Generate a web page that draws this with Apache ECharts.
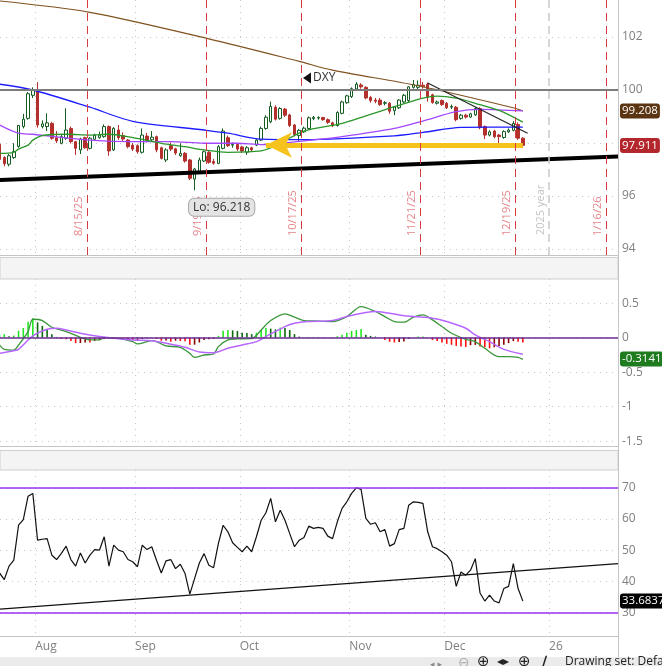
<!DOCTYPE html>
<html><head><meta charset="utf-8">
<script src="https://cdn.jsdelivr.net/npm/echarts@6/dist/echarts.min.js"></script>
<style>html,body{margin:0;padding:0;background:#fff}#c{width:662px;height:666px}</style>
</head><body><div id="c"></div>
<script>
// ---------- trading-day calendar (one slot per day on the chart) ----------
const jul25 = [22,23,24,25,28,29,30,31];
const aug25 = [1,4,5,6,7,8,11,12,13,14,15,18,19,20,21,22,25,26,27,28,29];
const sep25 = [1,2,3,4,5,8,9,10,11,12,15,16,17,18,19,22,23,24,25,26,29,30];
const oct25 = [1,2,3,6,7,8,9,10,13,14,15,16,17,20,21,22,23,24,27,28,29,30,31];
const nov25 = [3,4,5,6,7,10,11,12,13,14,17,18,19,20,21,24,25,26,27,28];
const dec25 = [1,2,3,4,5,8,9,10,11,12,15,16,17,18,19,22,23,24,26,29,30,31];
const jan26 = [1,2,5,6,7,8,9,12,13,14,15,16,19,20,21];
const monthStarts = ['2025-08-01','2025-09-01','2025-10-01','2025-11-03','2025-12-01','2026-01-01'];
const monthLabels = ['Aug','Sep','Oct','Nov','Dec','26'];
const expiryDates = ['2025-08-15','2025-09-19','2025-10-17','2025-11-21','2025-12-19','2026-01-16'];
const yearMarkDate = '2026-01-01';
const yearMarkLabel = '2025 year';

// ---------- DXY daily candles [open, close, low, high], from 2025-07-22 ----------
const ohlc = [
[97.95,97.38,97.30,98.00],[97.45,97.22,97.12,97.50],[97.20,97.52,97.12,97.58],[97.45,97.68,97.40,97.99],
[97.87,98.66,97.82,98.68],[98.62,98.90,98.55,99.10],[98.93,99.86,98.88,99.92],[99.80,100.00,99.70,100.10],
[100.00,98.68,98.58,100.30],[98.62,98.72,98.55,98.85],[98.62,98.76,98.45,99.12],[98.74,98.18,98.12,98.80],
[98.20,98.08,98.00,98.45],[97.99,98.24,97.95,98.30],[98.18,98.49,98.12,99.31],[98.55,98.05,97.98,98.62],
[98.05,97.80,97.55,98.08],[97.74,98.15,97.58,98.20],[98.20,97.82,97.78,98.24],[97.80,98.18,97.76,98.22],
[98.14,98.30,98.10,98.35],[98.20,98.30,98.16,98.43],[98.24,98.62,98.20,98.70],[98.62,97.70,97.52,98.66],
[97.74,98.55,97.70,98.60],[98.49,98.20,98.12,98.68],[98.28,98.15,98.08,98.40],[98.11,97.86,97.80,98.15],
[97.92,97.77,97.70,98.00],[97.90,97.67,97.60,97.95],[97.65,98.30,97.60,98.55],[98.26,98.10,98.02,98.38],
[98.12,98.22,98.05,98.45],[98.24,97.74,97.65,98.28],[97.82,97.42,97.38,97.86],[97.36,97.74,97.28,97.80],
[97.90,97.77,97.70,98.02],[97.78,97.62,97.55,97.82],[97.52,97.61,97.48,97.99],[97.61,97.32,97.26,97.66],
[97.36,96.67,96.60,97.40],[96.64,97.02,96.218,97.06],[96.92,97.36,96.88,97.45],[97.32,97.67,97.28,97.72],
[97.65,97.27,97.22,97.70],[97.30,97.24,97.18,97.40],[97.23,97.86,97.20,97.92],[97.80,98.45,97.76,98.55],
[98.20,97.90,97.85,98.28],[97.92,97.95,97.82,98.02],[97.95,97.77,97.70,98.00],[97.85,97.70,97.62,97.90],
[97.65,97.82,97.55,97.88],[97.82,97.74,97.68,97.86],[97.92,98.11,97.88,98.15],[98.11,98.55,98.08,98.62],
[98.55,98.97,98.50,99.05],[98.80,99.38,98.75,99.56],[99.35,98.90,98.85,99.42],[98.93,99.30,98.88,99.35],
[99.28,99.05,98.98,99.32],[99.06,98.66,98.60,99.10],[98.68,98.32,98.25,98.72],[98.28,98.48,98.05,98.52],
[98.42,98.56,98.38,98.62],[98.55,98.95,98.50,99.00],[98.92,98.97,98.86,99.02],[98.94,98.96,98.88,99.01],
[98.96,98.88,98.84,98.99],[98.88,98.78,98.72,98.93],[98.76,98.65,98.60,98.80],[98.66,99.15,98.62,99.20],
[99.12,99.55,99.08,99.60],[99.52,99.78,99.48,99.82],[99.75,100.05,99.70,100.10],[100.04,100.22,99.98,100.30],
[100.19,100.12,100.05,100.26],[100.10,99.70,99.65,100.14],[99.72,99.60,99.52,99.78],[99.62,99.58,99.50,99.70],
[99.62,99.45,99.40,99.70],[99.50,99.52,99.42,99.58],[99.50,99.20,99.10,99.55],[99.22,99.36,99.05,99.40],
[99.33,99.62,99.28,99.66],[99.55,99.80,99.50,99.85],[99.60,100.12,99.55,100.15],[100.10,100.20,100.05,100.38],
[100.10,100.18,100.04,100.36],[100.18,100.12,100.05,100.30],[100.22,99.75,99.56,100.28],[99.82,99.53,99.48,99.86],
[99.50,99.55,99.45,99.60],[99.60,99.45,99.40,99.64],[99.50,99.33,99.28,99.55],[99.35,99.38,99.28,99.45],
[99.35,98.88,98.82,99.40],[98.93,99.05,98.88,99.10],[99.05,98.98,98.92,99.10],[98.98,99.10,98.95,99.14],
[99.06,99.30,99.02,99.35],[99.30,98.58,98.52,99.35],[98.62,98.30,98.15,98.66],[98.30,98.42,98.25,98.48],
[98.45,98.24,98.18,98.50],[98.30,98.24,97.86,98.34],[98.21,98.43,98.16,98.48],[98.42,98.49,98.38,98.55],
[98.48,98.74,98.44,98.82],[98.70,98.18,98.12,98.78],[98.18,97.911,97.83,98.22]
];

// ---------- moving averages [date, value] ----------
const maBrown = [['2025-07-22',103.36],['2025-08-18',102.93],['2025-09-22',101.93],['2025-10-17',101.08],
  ['2025-10-28',100.75],['2025-11-21',100.16],['2025-12-19',99.33],['2025-12-23',99.208]];
const maBlue = [['2025-07-22',100.22],['2025-07-31',100.0],['2025-08-18',99.35],['2025-08-29',98.82],
  ['2025-09-19',98.49],['2025-09-26',98.37],['2025-10-07',98.15],['2025-10-20',98.13],['2025-11-14',98.27],
  ['2025-11-24',98.40],['2025-12-04',98.59],['2025-12-12',98.60],['2025-12-23',98.60]];
const maPurple = [['2025-07-22',98.68],['2025-07-28',98.37],['2025-07-31',98.33],['2025-08-18',98.11],
  ['2025-08-29',98.05],['2025-09-10',98.05],['2025-09-19',97.99],['2025-09-30',97.99],['2025-10-07',97.94],
  ['2025-10-20',98.08],['2025-10-30',98.24],['2025-11-14',98.55],['2025-11-24',98.83],['2025-12-03',99.18],
  ['2025-12-10',99.27],['2025-12-23',99.21]];
const maGreen = [['2025-07-22',97.61],['2025-07-25',97.65],['2025-07-28',97.77],['2025-07-30',97.92],
  ['2025-07-31',98.11],['2025-08-04',98.28],['2025-08-11',98.33],['2025-08-18',98.30],['2025-08-22',98.33],
  ['2025-08-29',98.20],['2025-09-08',97.99],['2025-09-15',97.86],['2025-09-19',97.74],['2025-09-26',97.65],
  ['2025-10-07',97.70],['2025-10-20',98.45],['2025-10-30',98.74],['2025-11-14',99.37],['2025-11-24',99.69],
  ['2025-11-27',99.77],['2025-12-03',99.69],['2025-12-09',99.50],['2025-12-16',99.23],['2025-12-23',98.79]];

// ---------- drawn studies ----------
const supportLine = [['2025-07-22',96.60],['2026-01-21',97.49]];
const downTrend = [['2025-11-25',100.26],['2025-12-24',98.37]];
const arrowLevel = 97.925, arrowFrom = '2025-10-08', arrowTo = '2025-12-23';
const dxyTag = ['2025-10-20', 100.45];
const priceTicks = [94,96,98,100,102];
const priceLabels = [94,96,100,102];

// ---------- MACD ----------
const macdLine = [['2025-07-22',-0.107],['2025-07-23',-0.17],['2025-07-25',-0.18],['2025-07-28',-0.107],
  ['2025-07-30',0.087],['2025-07-31',0.266],['2025-08-04',0.247],['2025-08-06',0.15],['2025-08-11',0.087],
  ['2025-08-14',0.005],['2025-08-18',-0.034],['2025-08-20',-0.034],['2025-08-21',0.0],['2025-08-26',-0.01],
  ['2025-08-29',-0.058],['2025-09-01',-0.092],['2025-09-04',-0.044],['2025-09-05',-0.058],['2025-09-09',-0.121],
  ['2025-09-12',-0.14],['2025-09-16',-0.228],['2025-09-17',-0.286],['2025-09-19',-0.252],['2025-09-23',-0.237],
  ['2025-09-24',-0.131],['2025-09-26',-0.034],['2025-09-30',-0.019],['2025-10-03',-0.015],['2025-10-07',0.111],
  ['2025-10-09',0.247],['2025-10-14',0.344],['2025-10-16',0.296],['2025-10-20',0.247],['2025-10-22',0.242],
  ['2025-10-28',0.233],['2025-10-31',0.305],['2025-11-05',0.45],['2025-11-10',0.378],['2025-11-12',0.305],
  ['2025-11-14',0.233],['2025-11-18',0.223],['2025-11-20',0.296],['2025-11-24',0.329],['2025-11-26',0.257],
  ['2025-11-28',0.16],['2025-12-02',0.063],['2025-12-05',-0.024],['2025-12-09',-0.058],['2025-12-11',-0.155],
  ['2025-12-16',-0.276],['2025-12-18',-0.276],['2025-12-22',-0.286],['2025-12-23',-0.3141]];
const signalLine = [['2025-07-22',-0.228],['2025-07-25',-0.189],['2025-07-28',-0.17],['2025-07-31',0.024],
  ['2025-08-05',0.121],['2025-08-07',0.136],['2025-08-11',0.111],['2025-08-14',0.063],['2025-08-20',0.015],
  ['2025-08-25',-0.01],['2025-08-29',-0.034],['2025-09-04',-0.044],['2025-09-09',-0.082],['2025-09-15',-0.14],
  ['2025-09-18',-0.208],['2025-09-23',-0.218],['2025-09-26',-0.155],['2025-10-01',-0.107],['2025-10-06',-0.058],
  ['2025-10-08',0.015],['2025-10-14',0.16],['2025-10-16',0.208],['2025-10-21',0.233],['2025-10-28',0.247],
  ['2025-10-31',0.305],['2025-11-06',0.363],['2025-11-10',0.378],['2025-11-17',0.329],['2025-11-20',0.305],
  ['2025-11-26',0.281],['2025-12-01',0.233],['2025-12-05',0.136],['2025-12-09',0.039],['2025-12-12',-0.058],
  ['2025-12-17',-0.17],['2025-12-23',-0.242]];
const macdHist = [0.04,0.05,0.02,0.03,0.10,0.14,0.23,0.28,0.22,0.17,
  0.12,0.05,0.01,-0.02,-0.025,-0.05,-0.08,-0.078,-0.07,-0.072,
  -0.05,-0.035,-0.02,-0.01,-0.012,-0.005,-0.01,-0.025,-0.035,-0.033,
  -0.02,-0.01,0.005,-0.02,-0.045,-0.043,-0.06,-0.045,-0.05,-0.052,
  -0.105,-0.102,-0.07,-0.035,-0.025,-0.02,0.025,0.10,0.11,0.105,
  0.095,0.07,0.068,0.05,0.07,0.11,0.14,0.13,0.12,0.145,
  0.14,0.11,0.05,0.015,0.005,0.01,0.005,0.01,0.005,0.0,
  -0.01,0.02,0.04,0.07,0.097,0.11,0.126,0.04,0.025,0.015,
  0.0,-0.035,-0.06,-0.07,-0.065,-0.055,-0.02,0.0,0.015,0.015,
  0.0,-0.035,-0.05,-0.07,-0.09,-0.105,-0.12,-0.13,-0.135,-0.11,
  -0.105,-0.13,-0.14,-0.155,-0.14,-0.12,-0.105,-0.08,-0.05,-0.06,-0.07];
const macdTicks = [0.5,0,-0.5,-1,-1.5];

// ---------- RSI ----------
const rsi = [42.7,40.6,44.9,46.8,58.0,59.8,67.3,68.2,53.2,53.5,
  53.7,48.4,47.0,49.0,51.3,47.0,44.9,49.1,45.9,48.4,
  50.2,50.0,54.3,44.9,51.6,50.0,49.5,47.0,46.3,44.7,
  51.6,50.2,51.1,46.8,42.7,46.6,47.0,44.1,45.5,42.5,
  35.9,40.9,45.9,48.9,45.2,44.4,52.1,58.0,55.9,52.4,
  50.9,49.5,51.3,49.5,54.3,59.6,62.0,66.6,59.1,62.8,
  59.6,55.3,51.1,53.2,54.1,57.7,57.0,57.3,57.0,54.5,
  53.7,59.1,63.4,65.5,68.2,70.0,69.5,60.2,58.3,58.8,
  55.9,56.6,51.3,52.1,56.6,57.0,64.4,65.5,65.3,65.0,
  55.9,51.1,50.5,49.5,48.4,46.3,38.4,43.0,42.0,43.6,
  47.3,36.3,33.7,35.6,33.7,33.1,37.7,38.4,45.7,37.7,33.6837];
const rsiTrend = [['2025-07-22',31.1],['2026-01-21',45.7]];
const rsiTicks = [70,60,50,40,30];
const rsiBands = [70,30];

// ---------- build ----------
const pad = n => String(n).padStart(2,'0');
const dates = [].concat(
  jul25.map(d => '2025-07-' + pad(d)), aug25.map(d => '2025-08-' + pad(d)),
  sep25.map(d => '2025-09-' + pad(d)), oct25.map(d => '2025-10-' + pad(d)),
  nov25.map(d => '2025-11-' + pad(d)), dec25.map(d => '2025-12-' + pad(d)),
  jan26.map(d => '2026-01-' + pad(d)));
const ix = d => dates.indexOf(d);
const pts = arr => arr.map(([d, v]) => [ix(d), v]);
const FONT = 'Open Sans';
const monthVals = monthStarts.map(d => ix(d) - 0.5);
const priceMonthVals = monthVals.filter((v, i) => monthStarts[i] !== yearMarkDate);
const monthFmt = v => { const k = monthVals.findIndex(m => Math.abs(m - v) < 0.01); return k < 0 ? '' : monthLabels[k]; };
const shortDate = d => { const [y, m, dd] = d.split('-'); return (+m) + '/' + (+dd) + '/' + y.slice(2); };

const candleData = ohlc.map((r, i) => [i, r[0], r[1], r[2], r[3]]);
const lows = ohlc.map(r => r[2]);
const loIdx = lows.indexOf(Math.min(...lows));
const lastClose = ohlc[ohlc.length - 1][1];
const histColors = macdHist.map((v, i) => {
  const p = i ? macdHist[i - 1] : 0;
  if (v >= 0) return v >= p ? '#22e622' : '#0b6b0b';
  return v <= p ? '#ff1010' : '#8b0000';
});

const XMIN = 0.1, XMAX = dates.length - 1;
function xAx(gi, ticks, showLabel) {
  return { type: 'value', gridIndex: gi, min: XMIN, max: XMAX,
    axisLine: { show: true, onZero: false, lineStyle: { color: '#c4c4c4' } },
    axisTick: { show: false, customValues: ticks },
    axisLabel: { show: showLabel, customValues: ticks, align: 'left', margin: 5, color: '#808080',
      fontSize: 12, fontFamily: FONT, formatter: monthFmt },
    splitLine: { show: true, lineStyle: { color: '#c6c6c6', type: [1, 5], width: 1 } } };
}
function yAx(gi, min, max, ticks, labels) {
  return { type: 'value', gridIndex: gi, position: 'right', min, max,
    axisLine: { show: false, onZero: false },
    axisTick: { show: false, customValues: ticks },
    axisLabel: { customValues: labels, color: '#808080', fontSize: 12, margin: 4, fontFamily: FONT,
      formatter: v => String(v) },
    splitLine: { show: true, lineStyle: { color: '#c6c6c6', type: [1, 5], width: 1 } } };
}
function badge(val, text, bg, fg) {
  return { yAxis: val, lineStyle: { color: 'rgba(0,0,0,0)', width: 0, opacity: 1 },
    label: { show: true, position: 'end', distance: 2, formatter: text, backgroundColor: bg, color: fg, opacity: 1,
      padding: [2, 2, 1, 2], borderRadius: 3, fontSize: 11.5, fontFamily: FONT } };
}
const lineS = (name, data, color, w, xi, extra) => Object.assign({
  name, type: 'line', xAxisIndex: xi, yAxisIndex: xi, data, showSymbol: false, symbol: 'none',
  lineStyle: { color, width: w }, silent: true, z: 3 }, extra || {});

const option = {
  animation: false,
  backgroundColor: '#ffffff',
  textStyle: { fontFamily: FONT },
  grid: [
    { left: 0, right: 44, top: 0, height: 255 },
    { left: 0, right: 44, top: 279, height: 167 },
    { left: 0, right: 44, top: 470, height: 166 }
  ],
  xAxis: [xAx(0, priceMonthVals, false), xAx(1, monthVals, false), xAx(2, monthVals, true)],
  yAxis: [yAx(0, 93.774, 103.396, priceTicks, priceLabels),
          yAx(1, -1.570, 0.849, macdTicks, macdTicks),
          yAx(2, 22.5, 75.7, rsiTicks, rsiTicks)],
  series: [
    { name: 'DXY', type: 'candlestick', xAxisIndex: 0, yAxisIndex: 0, data: candleData,
      encode: { x: 0, y: [1, 2, 3, 4] }, barWidth: 3, z: 2, silent: true,
      itemStyle: { color: '#ffffff', color0: '#b3302d', borderColor: '#145c22', borderColor0: '#b3302d', borderWidth: 1 },
      markLine: { silent: true, symbol: 'none', z: 20, data: [
        badge(lastClose, lastClose.toFixed(3), '#b3262b', '#ffffff'),
        badge(maBrown[maBrown.length - 1][1], maBrown[maBrown.length - 1][1].toFixed(3), '#5b3412', '#ffffff')
      ] } },
    lineS('MA brown', pts(maBrown), '#80511f', 1.1, 0, { smooth: 0.3,
      markLine: { silent: true, symbol: 'none', data: [
        { yAxis: 100, lineStyle: { color: '#7c7c7c', width: 2, type: 'solid' }, label: { show: false } },
        ...expiryDates.map(d => ({ xAxis: ix(d) + 0.5,
          lineStyle: { color: '#d63b42', width: 1, type: [8, 5] },
          label: { show: true, position: 'insideStartTop', distance: [19, 3], formatter: shortDate(d),
            color: '#e5858a', fontSize: 11, fontFamily: FONT } })),
        { xAxis: ix(yearMarkDate) - 0.5, lineStyle: { color: '#c9c9c9', width: 1.5, type: [8, 5] },
          label: { show: true, position: 'insideStartTop', distance: [20, 3], formatter: yearMarkLabel,
            color: '#c4c4c4', fontSize: 11, fontFamily: FONT } }
      ] } }),
    lineS('MA blue', pts(maBlue), '#1d1dff', 1.3, 0, { smooth: 0.3,
      markPoint: { silent: true, data: [{ coord: [ix(dxyTag[0]), dxyTag[1]], symbol: 'triangle', symbolRotate: 90,
        symbolSize: [11, 8], symbolOffset: [3, 0], itemStyle: { color: '#111' },
        label: { show: true, position: 'right', distance: 2, formatter: 'DXY', color: '#333', fontSize: 12, fontFamily: FONT } }] } }),
    lineS('MA purple', pts(maPurple), '#a347ff', 1.3, 0, { smooth: 0.3 }),
    lineS('MA green', pts(maGreen), '#2a962a', 1.3, 0, { smooth: 0.3 }),
    lineS('Support', pts(supportLine), '#000000', 4, 0, { z: 4 }),
    lineS('Down trend', pts(downTrend), '#222222', 1.1, 0, { z: 4,
      markLine: { silent: true, z: 4, data: [[
        { coord: [ix(arrowFrom), arrowLevel], symbol: 'arrow', symbolSize: [19, 26] },
        { coord: [ix(arrowTo), arrowLevel], symbol: 'none' }]],
        lineStyle: { color: '#f6c21c', width: 5, type: 'solid', opacity: 1 }, itemStyle: { color: '#f6c21c' },
        label: { show: false } } }),
    { name: 'Lo', type: 'line', xAxisIndex: 0, yAxisIndex: 0, data: [[loIdx, lows[loIdx]]], symbol: 'none',
      showSymbol: false, lineStyle: { opacity: 0 }, z: 10, silent: true,
      markPoint: { silent: true, z: 10, data: [{ coord: [loIdx, lows[loIdx]], symbol: 'rect', symbolSize: 1,
        itemStyle: { color: 'rgba(0,0,0,0)' },
        label: { show: true, position: [-5, 9], formatter: 'Lo: ' + lows[loIdx].toFixed(3), color: '#333',
          backgroundColor: '#e4e4e4', borderColor: '#a8a8a8', borderWidth: 1, borderRadius: 5,
          padding: [3, 4, 2, 4], fontSize: 12, fontFamily: FONT } }] } },

    { name: 'Hist', type: 'bar', xAxisIndex: 1, yAxisIndex: 1, barWidth: 1.6, silent: true, z: 2,
      data: macdHist.map((v, i) => ({ value: [i, v], itemStyle: { color: histColors[i] } })),
      markLine: { silent: true, symbol: 'none', z: 20, data: [
        { yAxis: 0, lineStyle: { color: '#6a2d92', width: 1.5, type: 'solid' }, label: { show: false } },
        badge(macdLine[macdLine.length - 1][1], macdLine[macdLine.length - 1][1].toFixed(4), '#1e7b1e', '#ffffff')
      ] } },
    lineS('MACD', pts(macdLine), '#3a963a', 1.3, 1, { smooth: 0.3 }),
    lineS('Signal', pts(signalLine), '#b767ff', 1.5, 1, { smooth: 0.3 }),

    lineS('RSI', rsi.map((v, i) => [i, v]), '#111111', 1.2, 2, {
      markLine: { silent: true, symbol: 'none', z: 20, data: [
        ...rsiBands.map(b => ({ yAxis: b, lineStyle: { color: '#9b30f0', width: 1.5, type: 'solid' }, label: { show: false } })),
        badge(rsi[rsi.length - 1], rsi[rsi.length - 1].toFixed(4), '#000000', '#ffffff')
      ] } }),
    lineS('RSI trend', pts(rsiTrend), '#111111', 1.2, 2)
  ],
  graphic: [
    { type: 'rect', z: 100, silent: true, shape: { x: 0, y: 257.5, width: 618, height: 21.5 },
      style: { fill: '#f4f4f4', stroke: '#cfcfcf', lineWidth: 1 } },
    { type: 'rect', z: 100, silent: true, shape: { x: 0, y: 450.5, width: 618, height: 19.5 },
      style: { fill: '#f4f4f4', stroke: '#cfcfcf', lineWidth: 1 } },
    { type: 'line', z: 100, silent: true, shape: { x1: 618.5, y1: 0, x2: 618.5, y2: 657 },
      style: { stroke: '#c4c4c4', lineWidth: 1 } },
    { type: 'rect', z: 100, silent: true, shape: { x: 0, y: 657, width: 662, height: 9 },
      style: { fill: '#ebebeb' } },
    { type: 'text', z: 101, silent: true, x: 430, y: 660, style: { text: '◂ ▸', fill: '#8a8a8a', font: '9px "DejaVu Sans"' } },
    { type: 'text', z: 101, silent: true, x: 458, y: 656, style: { text: '⊖', fill: '#b0b0b0', font: '14px "DejaVu Sans"' } },
    { type: 'text', z: 101, silent: true, x: 477, y: 655, style: { text: '⊕', fill: '#222', font: '15px "DejaVu Sans"' } },
    { type: 'text', z: 101, silent: true, x: 497, y: 656, style: { text: '◂▸', fill: '#222', font: 'bold 12px "DejaVu Sans"' } },
    { type: 'text', z: 101, silent: true, x: 518, y: 655, style: { text: '⊕', fill: '#222', font: '15px "DejaVu Sans"' } },
    { type: 'text', z: 101, silent: true, x: 542, y: 655, style: { text: '∕', fill: '#222', font: 'bold 14px "DejaVu Sans"' } },
    { type: 'text', z: 101, silent: true, x: 565, y: 656, style: { text: 'Drawing set: Default', fill: '#222', font: '12px "Open Sans"' } }
  ]
};
const chart = echarts.init(document.getElementById('c'));
chart.setOption(option);
</script>
</body></html>
